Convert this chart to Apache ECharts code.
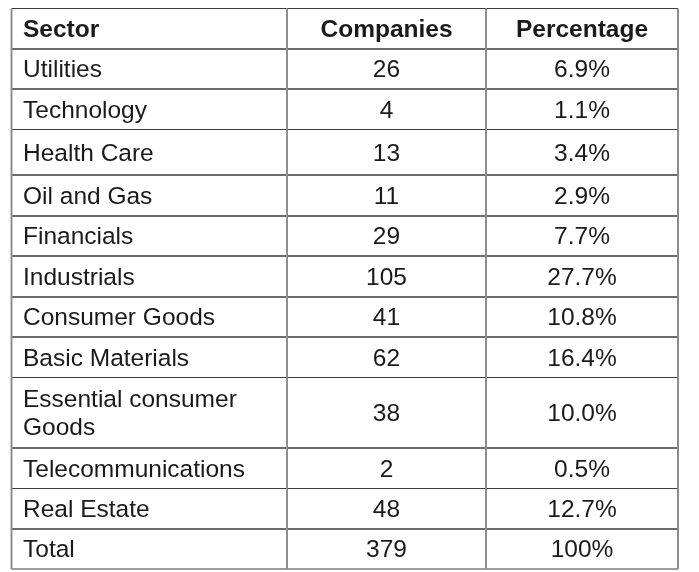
<!DOCTYPE html>
<html>
<head>
<meta charset="utf-8">
<script src="https://cdn.jsdelivr.net/npm/echarts@6/dist/echarts.min.js"></script>
<style>html,body{margin:0;padding:0;background:#fff;}#c{width:699px;height:572px;}</style>
</head>
<body>
<div id="c"></div>
<script>
// ---- data ----
const headers = ['Sector', 'Companies', 'Percentage'];
const sectors = ['Utilities', 'Technology', 'Health Care', 'Oil and Gas', 'Financials', 'Industrials',
  'Consumer Goods', 'Basic Materials', 'Essential consumer\nGoods', 'Telecommunications', 'Real Estate', 'Total'];
const companies = ['26', '4', '13', '11', '29', '105', '41', '62', '38', '2', '48', '379'];
const percentages = ['6.9%', '1.1%', '3.4%', '2.9%', '7.7%', '27.7%', '10.8%', '16.4%', '10.0%', '0.5%', '12.7%', '100%'];

// ---- layout (pixel-unit axis coordinates) ----
const colEdges = [11.5, 287, 486, 678];
const rowEdges = [8.5, 49, 89, 129.5, 175, 216, 256, 297, 337, 377.5, 448, 488.5, 529, 569];
const FONT = "'Liberation Sans', Arial, Helvetica, sans-serif";

function cellText(c, r) {
  if (r === 0) return headers[c];
  const i = r - 1;
  return c === 0 ? sectors[i] : (c === 1 ? companies[i] : percentages[i]);
}

const cells = [];
for (let r = 0; r < rowEdges.length - 1; r++) {
  for (let c = 0; c < 3; c++) cells.push({ value: [c, r] });
}

const chart = echarts.init(document.getElementById('c'), null, { renderer: 'canvas' });
chart.setOption({
  backgroundColor: '#ffffff',
  animation: false,
  grid: { left: 0, right: 0, top: 0, bottom: 0 },
  xAxis: { type: 'value', min: 0, max: 699, show: false },
  yAxis: { type: 'value', min: 0, max: 572, inverse: true, show: false },
  series: [{
    type: 'custom',
    coordinateSystem: 'cartesian2d',
    data: cells,
    renderItem: function (params, api) {
      const c = api.value(0), r = api.value(1);
      const p0 = api.coord([colEdges[c], rowEdges[r]]);
      const p1 = api.coord([colEdges[c + 1], rowEdges[r + 1]]);
      const hStyle = { stroke: '#3c3c3c', lineWidth: 1.2 };
      const vStyle = { stroke: '#8e8e8e', lineWidth: 2 };
      const txt = cellText(c, r);
      const cy = (p0[1] + p1[1]) / 2 + 1.5;
      const children = [
        { type: 'line', z2: 1, shape: { x1: p0[0], y1: p0[1], x2: p1[0], y2: p0[1] }, style: hStyle },
        { type: 'line', z2: 1, shape: { x1: p0[0], y1: p1[1], x2: p1[0], y2: p1[1] }, style: hStyle },
        { type: 'line', z2: 2, shape: { x1: p0[0], y1: p0[1], x2: p0[0], y2: p1[1] }, style: vStyle },
        { type: 'line', z2: 2, shape: { x1: p1[0], y1: p0[1], x2: p1[0], y2: p1[1] }, style: vStyle },
        {
          type: 'text', z2: 3,
          x: c === 0 ? p0[0] + 11.5 : (p0[0] + p1[0]) / 2,
          y: cy,
          style: {
            text: txt,
            fill: '#1a1a1a',
            font: (r === 0 ? 'bold ' : '') + '24.5px ' + FONT,
            align: c === 0 ? 'left' : 'center',
            verticalAlign: 'middle',
            lineHeight: 28.5
          }
        }
      ];
      return { type: 'group', children: children };
    }
  }]
});
</script>
</body>
</html>
